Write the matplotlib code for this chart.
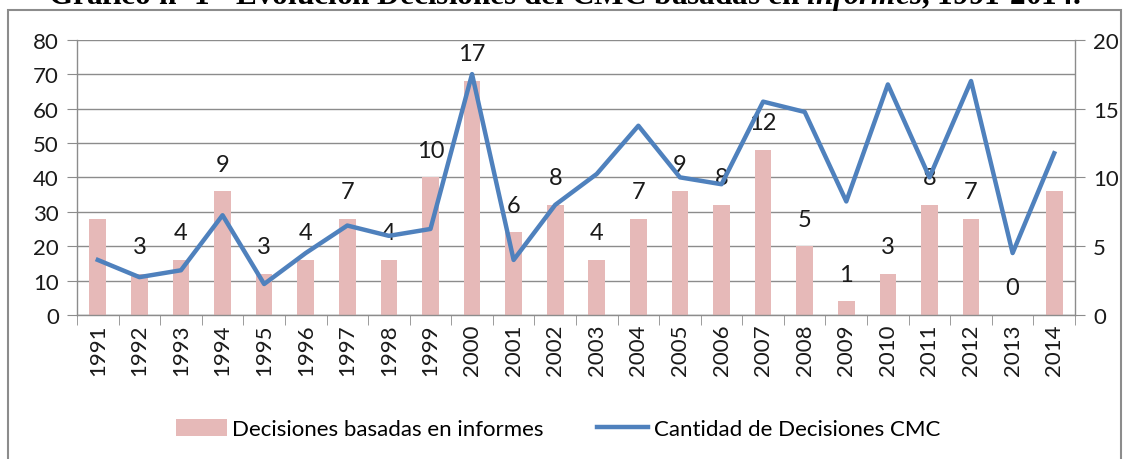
import matplotlib.pyplot as plt
import numpy as np
from matplotlib.patches import Rectangle

# Datos
years = [str(y) for y in range(1991, 2015)]
decisiones_informes = [7, 3, 4, 9, 3, 4, 7, 4, 10, 17, 6, 8, 4, 7, 9, 8, 12, 5, 1, 3, 8, 7, 0, 9]
cantidad_cmc = [16, 11, 13, 29, 9, 18, 26, 23, 25, 70, 16, 32, 41, 55, 40, 38, 62, 59, 33, 67, 40, 68, 18, 47]
# etiquetas visibles (1991 y 2014 sin etiqueta)
mostrar_etiqueta = [False] + [True] * 22 + [False]

bar_color = '#E6B9B8'
line_color = '#4F81BD'
grid_color = '#8C8C8C'

plt.rcParams['font.family'] = ['Lato', 'DejaVu Sans']
plt.rcParams['mathtext.fontset'] = 'custom'
plt.rcParams['mathtext.it'] = 'Liberation Serif:italic:bold'
plt.rcParams['mathtext.rm'] = 'Liberation Serif:bold'

fig = plt.figure(figsize=(11.29, 4.6), dpi=100)
ax = fig.add_axes([77 / 1129, 1 - 316 / 460, (1075 - 77) / 1129, (316 - 40.7) / 460])
x = np.arange(len(years))

# barras en el eje derecho (0-20)
bars = ax.bar(x, decisiones_informes, width=0.4, color=bar_color, zorder=2,
              label='Decisiones basadas en informes')
for xi, v, show in zip(x, decisiones_informes, mostrar_etiqueta):
    if show:
        ax.annotate(str(v), (xi, v), xytext=(0, 19.5), textcoords='offset points',
                    ha='center', va='center', fontsize=17, color='#1a1a1a', zorder=3)

ax.set_ylim(0, 20)
ax.set_xlim(-0.5, len(years) - 0.5)
ax.set_yticks(np.arange(0, 21, 5))
ax.set_yticks(np.arange(0, 21, 2.5), minor=True)
ax.grid(axis='y', which='both', color=grid_color, linewidth=1, zorder=0)
ax.set_axisbelow(True)

ax.set_xticks(x)
ax.set_xticklabels(years, rotation=90, fontsize=16, color='#1a1a1a')
ax.set_xticks(np.arange(-0.5, len(years), 1), minor=True)
ax.tick_params(axis='x', which='major', length=0, pad=6)
ax.tick_params(axis='x', which='minor', length=7, color=grid_color, direction='out')

for side in ['top']:
    ax.spines[side].set_visible(False)
for side in ['left', 'right', 'bottom']:
    ax.spines[side].set_color(grid_color)
    ax.spines[side].set_linewidth(1)

# linea en el eje izquierdo (0-80)
ax2 = ax.twinx()
ax2.plot(x, cantidad_cmc, color=line_color, linewidth=3.2, zorder=4,
         label='Cantidad de Decisiones CMC')
ax2.set_ylim(0, 80)
ax2.set_yticks(np.arange(0, 81, 10))
for side in ax2.spines.values():
    side.set_visible(False)

# barras -> escala a la derecha, linea -> escala a la izquierda
ax.yaxis.tick_right()
ax.yaxis.set_label_position('right')
ax2.yaxis.tick_left()
ax2.yaxis.set_label_position('left')
ax.tick_params(axis='y', which='minor', length=0)
ax.tick_params(axis='y', which='major', labelsize=16, labelcolor='#1a1a1a', length=7,
               color=grid_color, pad=6, right=True, labelright=True, left=False, labelleft=False)
ax2.tick_params(axis='y', labelsize=16, labelcolor='#1a1a1a', length=7, color=grid_color, pad=6,
                left=True, labelleft=True, right=False, labelright=False)

# leyenda
handles = [bars, ax2.get_lines()[0]]
fig.legend(handles, [h.get_label() for h in handles], loc='center', ncol=2,
           bbox_to_anchor=(558 / 1129, 1 - 430 / 460), frameon=False, fontsize=16,
           handlelength=2.3, handleheight=0.8, handletextpad=0.25, columnspacing=2.4)

# titulo (parcialmente cortado en el borde superior)
fig.text(0.5, 1 - 4 / 460,
         'Gráfico nº 1 - Evolución Decisiones del CMC basadas en $\\mathit{informes}$, 1991-2014.',
         ha='center', va='baseline', fontsize=22.5, fontweight='bold',
         family=['Liberation Serif', 'DejaVu Serif'])

# borde del grafico
fig.patches.append(Rectangle((8 / 1129, -0.05), (1121 - 8) / 1129, 1.05 - 11 / 460,
                             transform=fig.transFigure, fill=False,
                             edgecolor='#8C8C8C', linewidth=1.5))

fig.savefig('out.png', dpi=100)
